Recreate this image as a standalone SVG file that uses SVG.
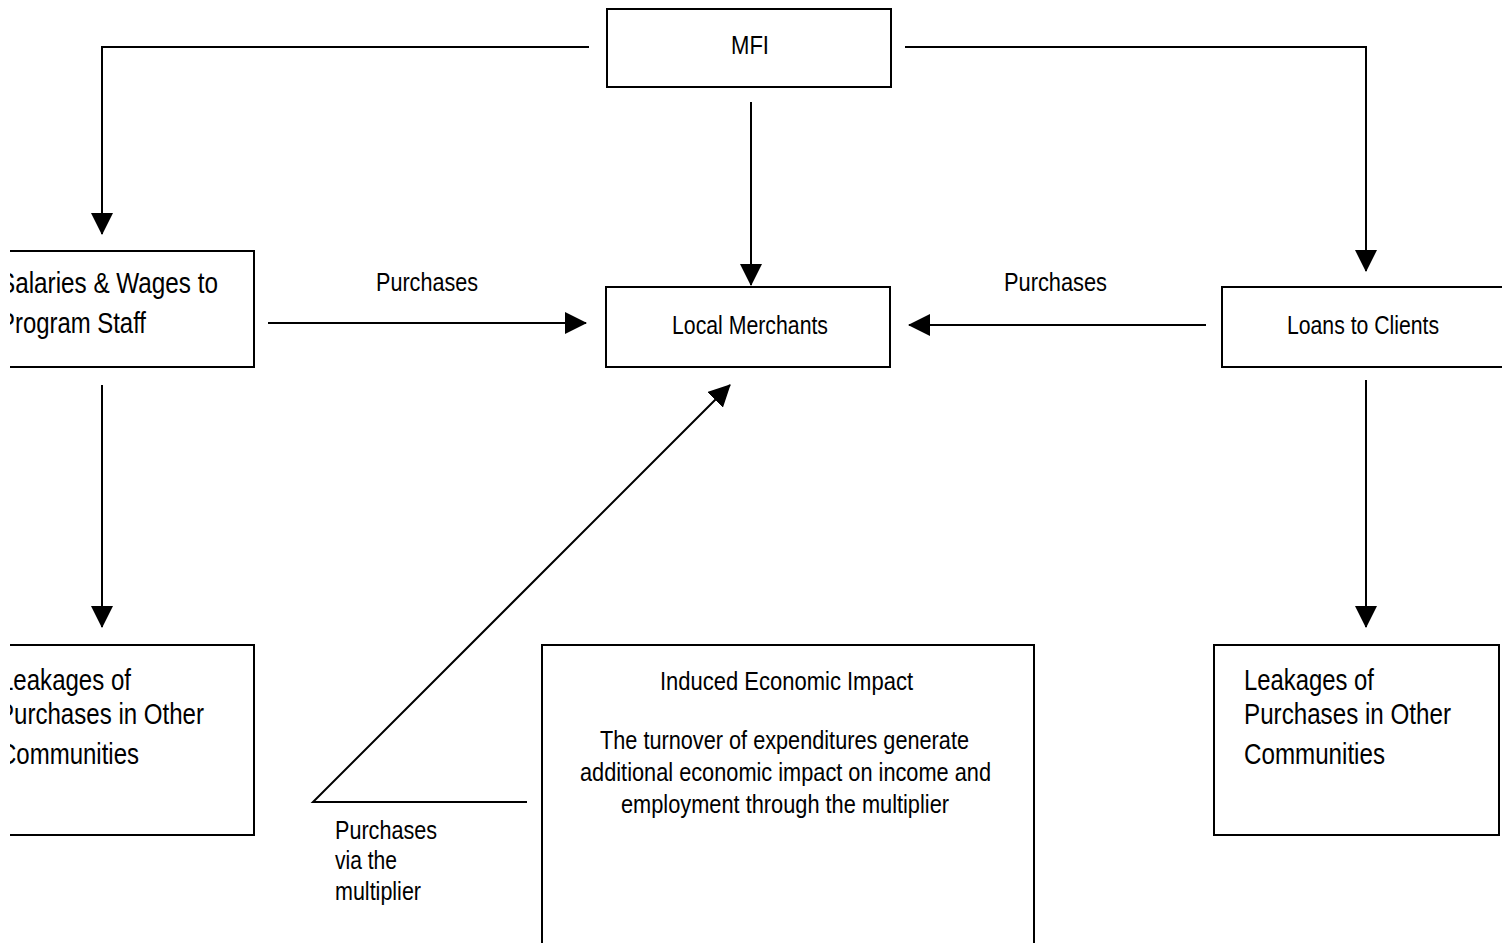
<svg xmlns="http://www.w3.org/2000/svg" width="1509" height="943" viewBox="0 0 1509 943">
<style>
.box{fill:#fff;stroke:#000;stroke-width:2}
.t{font-family:"Liberation Sans Narrow","Arial Narrow","Liberation Sans",Arial,sans-serif;font-size:26px;fill:#000}
.b{font-size:29.5px}
.c{fill:none;stroke:#000;stroke-width:2}
</style>
<defs>
<marker id="ah" markerUnits="userSpaceOnUse" markerWidth="22" markerHeight="22" refX="21" refY="11" orient="auto">
<path d="M0,0 L22,11 L0,22 z" fill="#000"/>
</marker>
<clipPath id="clipL"><rect x="10" y="0" width="1499" height="943"/></clipPath>
<clipPath id="clipR"><rect x="0" y="0" width="1502" height="943"/></clipPath>
</defs>
<rect width="1509" height="943" fill="#fff"/>
<g id="connectors">
<path class="c" d="M589,47 H102 V234" marker-end="url(#ah)"/>
<path class="c" d="M905,47 H1366 V271" marker-end="url(#ah)"/>
<path class="c" d="M751,102 V285" marker-end="url(#ah)"/>
<path class="c" d="M268,323 H586" marker-end="url(#ah)"/>
<path class="c" d="M1206,325 H909" marker-end="url(#ah)"/>
<path class="c" d="M102,385 V627" marker-end="url(#ah)"/>
<path class="c" d="M1366,380 V627" marker-end="url(#ah)"/>
<path class="c" d="M527,802 H313 L730,385" marker-end="url(#ah)"/>
<text class="t" x="376" y="291" textLength="102" lengthAdjust="spacingAndGlyphs">Purchases</text>
<text class="t" x="1004" y="291" textLength="103" lengthAdjust="spacingAndGlyphs">Purchases</text>
<text class="t" x="335" y="839" textLength="102" lengthAdjust="spacingAndGlyphs">Purchases</text>
<text class="t" x="335" y="869" textLength="62" lengthAdjust="spacingAndGlyphs">via the</text>
<text class="t" x="335" y="900" textLength="86" lengthAdjust="spacingAndGlyphs">multiplier</text>
</g>
<g id="mfi">
<rect class="box" x="607" y="9" width="284" height="78"/>
<text class="t" x="731" y="54" textLength="38" lengthAdjust="spacingAndGlyphs">MFI</text>
</g>
<g id="salaries" clip-path="url(#clipL)">
<rect class="box" x="-30" y="251" width="284" height="116"/>
<text class="t b" x="-1" y="293" textLength="219" lengthAdjust="spacingAndGlyphs">Salaries &amp; Wages to</text>
<text class="t b" x="-1" y="333" textLength="147" lengthAdjust="spacingAndGlyphs">Program Staff</text>
</g>
<g id="local-merchants">
<rect class="box" x="606" y="287" width="284" height="80"/>
<text class="t" x="672" y="334" textLength="156" lengthAdjust="spacingAndGlyphs">Local Merchants</text>
</g>
<g id="loans" clip-path="url(#clipR)">
<rect class="box" x="1222" y="287" width="290" height="80"/>
<text class="t" x="1287" y="334" textLength="152" lengthAdjust="spacingAndGlyphs">Loans to Clients</text>
</g>
<g id="leakages-left" clip-path="url(#clipL)">
<rect class="box" x="-30" y="645" width="284" height="190"/>
<text class="t b" x="0" y="690" textLength="131" lengthAdjust="spacingAndGlyphs">Leakages of</text>
<text class="t b" x="-2" y="724" textLength="206" lengthAdjust="spacingAndGlyphs">Purchases in Other</text>
<text class="t b" x="-1" y="764" textLength="140" lengthAdjust="spacingAndGlyphs">Communities</text>
</g>
<g id="leakages-right">
<rect class="box" x="1214" y="645" width="285" height="190"/>
<text class="t b" x="1244" y="690" textLength="130" lengthAdjust="spacingAndGlyphs">Leakages of</text>
<text class="t b" x="1244" y="724" textLength="207" lengthAdjust="spacingAndGlyphs">Purchases in Other</text>
<text class="t b" x="1244" y="764" textLength="141" lengthAdjust="spacingAndGlyphs">Communities</text>
</g>
<g id="induced">
<rect class="box" x="542" y="645" width="492" height="310"/>
<text class="t" x="660" y="690" textLength="253" lengthAdjust="spacingAndGlyphs">Induced Economic Impact</text>
<text class="t" x="600" y="749" textLength="369" lengthAdjust="spacingAndGlyphs">The turnover of expenditures generate</text>
<text class="t" x="580" y="781" textLength="411" lengthAdjust="spacingAndGlyphs">additional economic impact on income and</text>
<text class="t" x="621" y="813" textLength="328" lengthAdjust="spacingAndGlyphs">employment through the multiplier</text>
</g>
</svg>
